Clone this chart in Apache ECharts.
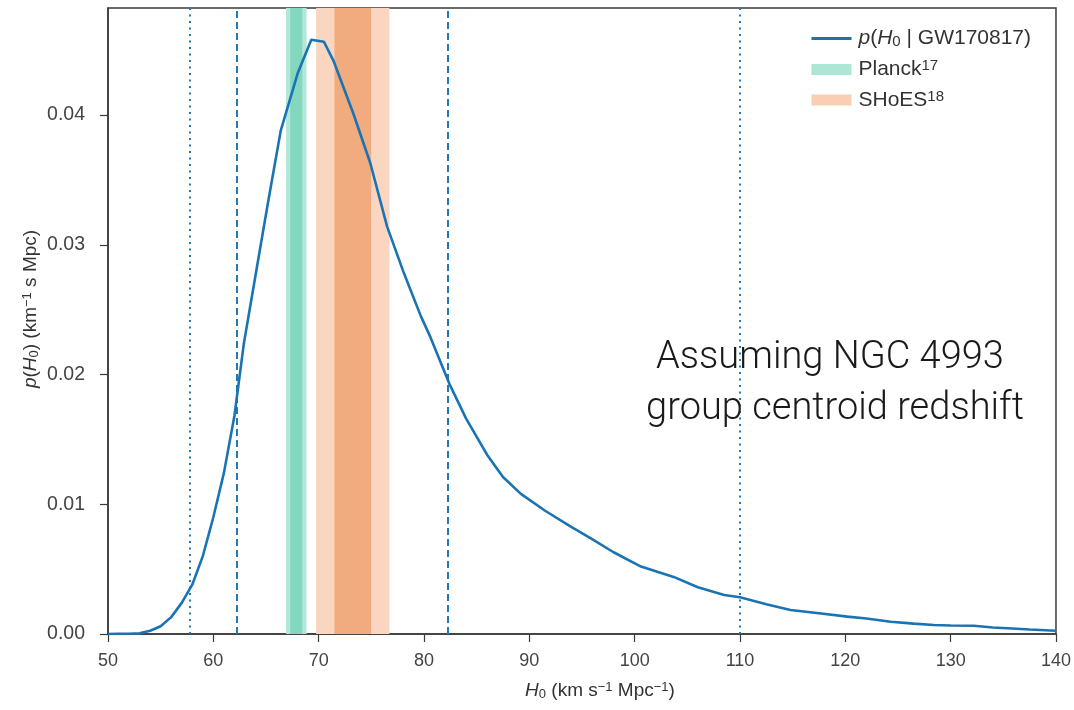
<!DOCTYPE html>
<html>
<head>
<meta charset="utf-8">
<script src="https://cdn.jsdelivr.net/npm/echarts@6/dist/echarts.min.js"></script>
<style>
  html, body { margin: 0; padding: 0; background: #fff; }
  #chart { width: 1074px; height: 710px; }
</style>
</head>
<body>
<div id="chart"></div>
<script>
// Posterior on the Hubble constant, H0 in km/s/Mpc
const h0 = [50, 51, 52, 53, 54, 55, 56, 57, 58, 59, 60, 61, 62, 62.9, 64.1, 65.2, 66.4, 68.0, 69.3, 70.5,
            71.4, 73.3, 74.9, 76.5, 78.1, 79.7, 80.6, 82.4, 84, 86, 87.5, 89.2, 91.5, 93.9, 96, 98, 100.6,
            103.7, 106, 108.5, 110, 112.5, 114.8, 117.5, 120.2, 122, 124.3, 126.5, 128.4, 130, 132.2,
            134, 135.4, 137.5, 140];
const density = [0, 0.00001, 0.00002, 0.00005, 0.00025, 0.0006, 0.0013, 0.0024, 0.0038, 0.006, 0.009,
                 0.0124, 0.0168, 0.0224, 0.0281, 0.0333, 0.0388, 0.0432, 0.0458, 0.04565,
                 0.0442, 0.0401, 0.0363, 0.0314, 0.0278, 0.0245, 0.0229, 0.0193, 0.0166, 0.0138, 0.0121,
                 0.0108, 0.0095, 0.0083, 0.0073, 0.0063, 0.0052, 0.0044, 0.0036, 0.0030, 0.00283, 0.0023,
                 0.00185, 0.0016, 0.00134, 0.0012, 0.00095, 0.0008, 0.00069, 0.00066, 0.00064, 0.0005,
                 0.00044, 0.00035, 0.00025];

// Credible interval bounds: 68.3% (dashed) and 95.4% (dotted)
const dashedBounds = [62.2, 82.3];
const dottedBounds = [57.8, 110.0];

// External measurements: [outer (2 sigma) range, inner (1 sigma) range]
const planckRanges = [[66.9, 68.85], [67.3, 68.45]];
const shoesRanges = [[69.76, 76.72], [71.5, 74.98]];

const xTicks = [50, 60, 70, 80, 90, 100, 110, 120, 130, 140];
const yTicks = [0, 0.01, 0.02, 0.03, 0.04];

const annotationLines = ['Assuming NGC 4993', 'group centroid redshift'];

const BLUE = '#1a74b4';
const FONT = 'Liberation Sans, Arial, sans-serif';
const AXIS = '#3a3a3a';
const TXT = '#333';

const chart = echarts.init(document.getElementById('chart'), null, { renderer: 'canvas' });

function bandAreas(ranges, outerColor, innerColor) {
  return ranges.map((r, i) => [
    { xAxis: r[0], itemStyle: { color: i === 0 ? outerColor : innerColor } },
    { xAxis: r[1] }
  ]);
}

function richText(size) {
  const small = Math.round(size * 0.7);
  return {
    n: { fontFamily: FONT, fontSize: size, color: TXT },
    i: { fontFamily: FONT, fontSize: size, fontStyle: 'italic', color: TXT },
    sub: { fontFamily: FONT, fontSize: small, color: TXT, verticalAlign: 'bottom', padding: [7, 0, 0, 0] },
    sup: { fontFamily: FONT, fontSize: small, color: TXT, verticalAlign: 'top', padding: [0, 0, 7, 0] }
  };
}

const legendLabels = {
  'curve': '{i|p}{n|(}{i|H}{sub|0}{n| | GW170817)}',
  'Planck': '{n|Planck}{sup|17}',
  'SHoES': '{n|SHoES}{sup|18}'
};

const vlineData = dashedBounds.map(v => ({ xAxis: v, lineStyle: { type: [7, 4] } }))
  .concat(dottedBounds.map(v => ({ xAxis: v, lineStyle: { type: [2, 4.5] } })));

const annotationStyle = {
  fontFamily: 'Roboto, Liberation Sans, sans-serif',
  fontWeight: 300,
  fontSize: 38,
  fill: '#1a1a1a',
  align: 'center',
  verticalAlign: 'middle'
};

chart.setOption({
  animation: false,
  backgroundColor: '#fff',
  grid: {
    left: 108, right: 17, top: 8, bottom: 76,
    show: true, borderColor: AXIS, borderWidth: 1.5, backgroundColor: 'transparent'
  },
  legend: {
    orient: 'vertical',
    left: 805,
    top: 23,
    itemWidth: 40,
    itemHeight: 11,
    itemGap: 9,
    data: [
      { name: 'curve', icon: 'line', itemStyle: { color: BLUE, borderColor: BLUE, borderWidth: 3 } },
      { name: 'Planck', icon: 'rect', itemStyle: { color: '#ace6d5' } },
      { name: 'SHoES', icon: 'rect', itemStyle: { color: '#f9ceb4' } }
    ],
    formatter: name => legendLabels[name],
    textStyle: { rich: richText(21), padding: [0, 0, 0, 2] }
  },
  xAxis: {
    type: 'value',
    min: 50, max: 140, interval: 10,
    name: '{i|H}{sub|0}{n| (km s}{sup|−1}{n| Mpc}{sup|−1}{n|)}',
    nameLocation: 'middle',
    nameGap: 47,
    nameMoveOverlap: false,
    nameTextStyle: { rich: richText(19), padding: [0, 0, 0, 36] },
    axisLine: { onZero: false, lineStyle: { color: AXIS, width: 1.5 } },
    axisTick: { show: true, inside: false, length: 8, lineStyle: { color: AXIS, width: 1.2 }, customValues: xTicks },
    axisLabel: { color: '#444', fontFamily: FONT, fontSize: 18, margin: 18, customValues: xTicks },
    splitLine: { show: false }
  },
  yAxis: {
    type: 'value',
    min: 0, max: 0.04825,
    name: '{i|p}{n|(}{i|H}{sub|0}{n|) (km}{sup|−1}{n| s Mpc)}',
    nameLocation: 'middle',
    nameGap: 67,
    nameRotate: 90,
    nameMoveOverlap: false,
    nameTextStyle: { rich: richText(19), padding: [0, 0, 0, 24] },
    axisLine: { onZero: false, lineStyle: { color: AXIS, width: 1.5 } },
    axisTick: { show: true, inside: false, length: 8, lineStyle: { color: AXIS, width: 1.2 }, customValues: yTicks },
    axisLabel: {
      color: '#444', fontFamily: FONT, fontSize: 19.5, margin: 23,
      customValues: yTicks,
      formatter: v => v.toFixed(2)
    },
    splitLine: { show: false }
  },
  series: [
    {
      name: 'Planck',
      type: 'line',
      color: '#ace6d5',
      data: [],
      markArea: { silent: true, data: bandAreas(planckRanges, '#b3e8d9', '#84d7bf') }
    },
    {
      name: 'SHoES',
      type: 'line',
      color: '#f9ceb4',
      data: [],
      markArea: { silent: true, data: bandAreas(shoesRanges, '#fad5bf', '#f1ab7e') }
    },
    {
      name: 'curve',
      type: 'line',
      data: h0.map((x, i) => [x, density[i]]),
      showSymbol: false,
      symbol: 'none',
      color: BLUE,
      lineStyle: { color: BLUE, width: 2.6 },
      z: 5,
      markLine: {
        silent: true,
        symbol: ['none', 'none'],
        label: { show: false },
        lineStyle: { color: '#2479b5', width: 2 },
        data: vlineData
      }
    }
  ],
  graphic: [
    {
      type: 'text', x: 830, y: 358, z: 10,
      style: Object.assign({ text: annotationLines[0] }, annotationStyle)
    },
    {
      type: 'text', x: 835, y: 409, z: 10,
      style: Object.assign({ text: annotationLines[1] }, annotationStyle)
    }
  ]
});
</script>
</body>
</html>
